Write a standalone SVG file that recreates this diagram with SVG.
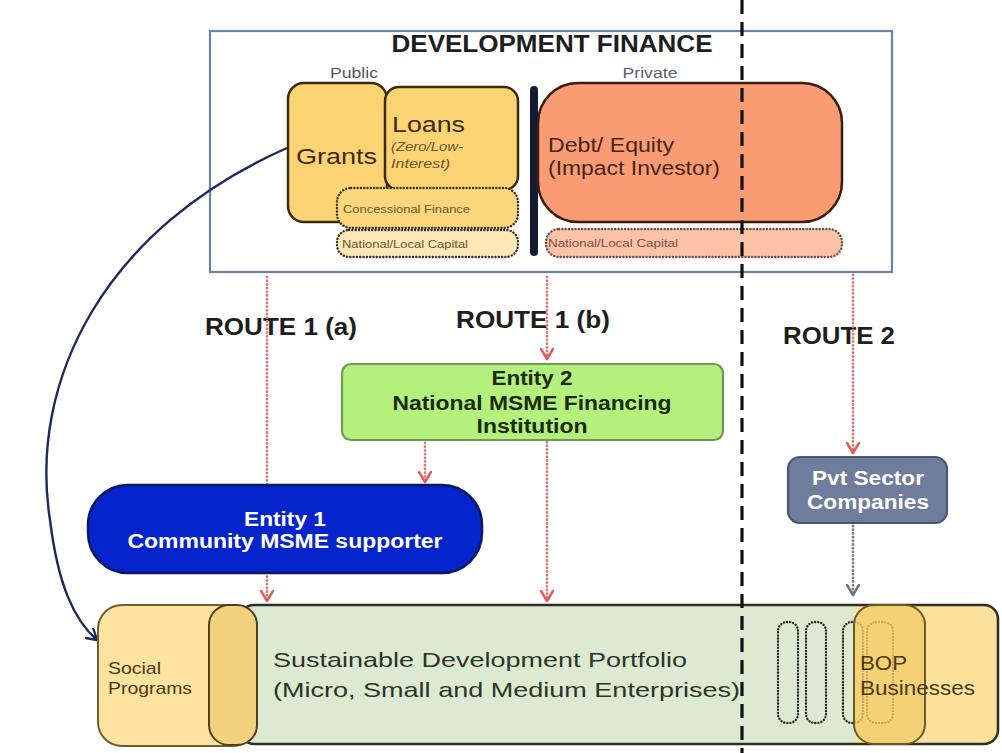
<svg xmlns="http://www.w3.org/2000/svg" width="1002" height="753" viewBox="0 0 1002 753">
<style>
text{font-family:"Liberation Sans",Arial,Helvetica,sans-serif}
.b{font-weight:bold}
.pub{fill:#fcd372;stroke:#3a2c10;stroke-width:2.5}
.dot{stroke-width:2.4;stroke-dasharray:0.1 3.2;stroke-linecap:round}
.brown{fill:#3d2b10}
.red{fill:none;stroke:#d97a7a;stroke-width:2.8;stroke-dasharray:0.1 3.6;stroke-linecap:round}
.gray{fill:none;stroke:#7d7d7d;stroke-width:2.8;stroke-dasharray:0.1 3.6;stroke-linecap:round}
.pill{fill:none;stroke:#2a2a2a;stroke-width:2.4;stroke-dasharray:0.1 3;stroke-linecap:round}
</style>
<defs>
<marker id="ahRed" viewBox="0 0 13 14" refX="11" refY="7" markerWidth="13" markerHeight="14" markerUnits="userSpaceOnUse" orient="auto"><path d="M1,1 L11,7 L1,13" fill="none" stroke="#e05e5c" stroke-width="2.6" stroke-linecap="round" stroke-linejoin="round"/></marker>
<marker id="ahGray" viewBox="0 0 13 14" refX="11" refY="7" markerWidth="13" markerHeight="14" markerUnits="userSpaceOnUse" orient="auto"><path d="M1,1 L11,7 L1,13" fill="none" stroke="#777" stroke-width="2.6" stroke-linecap="round" stroke-linejoin="round"/></marker>
<marker id="ahNavy" viewBox="0 0 13 14" refX="11" refY="7" markerWidth="13" markerHeight="14" markerUnits="userSpaceOnUse" orient="auto"><path d="M1,1 L11,7 L1,13" fill="none" stroke="#1c2a5c" stroke-width="2.4" stroke-linecap="round" stroke-linejoin="round"/></marker>
</defs>
<rect width="1002" height="753" fill="#ffffff"/>

<g id="development-finance">
<rect x="210" y="31" width="682" height="241" fill="#ffffff" stroke="#6a84a2" stroke-width="2.2"/>
<text x="552" y="52" class="b" font-size="23" fill="#1e1e1e" text-anchor="middle" textLength="321" lengthAdjust="spacingAndGlyphs">DEVELOPMENT FINANCE</text>
<text x="354" y="78" font-size="14" fill="#555" text-anchor="middle" textLength="48" lengthAdjust="spacingAndGlyphs">Public</text>
<text x="650" y="78" font-size="14" fill="#5a5f6a" text-anchor="middle" textLength="55" lengthAdjust="spacingAndGlyphs">Private</text>
</g>

<g id="grants">
<rect x="288" y="83" width="99" height="139" rx="16" class="pub"/>
<text x="296" y="164" font-size="22" class="brown" textLength="81" lengthAdjust="spacingAndGlyphs">Grants</text>
</g>
<g id="loans">
<rect x="385" y="87" width="133" height="103" rx="14" class="pub"/>
<text x="392" y="132" font-size="22" class="brown" textLength="73" lengthAdjust="spacingAndGlyphs">Loans</text>
<text x="391" y="151" font-size="12" font-style="italic" fill="#6a5530" textLength="72" lengthAdjust="spacingAndGlyphs">(Zero/Low-</text>
<text x="391" y="168" font-size="12" font-style="italic" fill="#6a5530" textLength="59" lengthAdjust="spacingAndGlyphs">Interest)</text>
</g>
<g id="concessional-finance">
<rect x="337" y="188" width="181" height="40" rx="14" fill="#fcd67a" stroke="#3a3020" class="dot"/>
<text x="343" y="213" font-size="11" fill="#6a5530" textLength="127" lengthAdjust="spacingAndGlyphs">Concessional Finance</text>
</g>
<g id="national-capital-public">
<rect x="337" y="230" width="181" height="27" rx="12" fill="#fde7b6" stroke="#3a3020" class="dot"/>
<text x="342" y="248" font-size="11" fill="#6a5530" textLength="126" lengthAdjust="spacingAndGlyphs">National/Local Capital</text>
</g>
<g id="divider-bar">
<rect x="530" y="86" width="8" height="170" rx="4" fill="#141b33"/>
</g>
<g id="debt-equity">
<rect x="538" y="83" width="304" height="139" rx="40" fill="#f99c73" stroke="#3a1c10" stroke-width="2.5"/>
<text x="548" y="152" font-size="20" fill="#4a2416" textLength="126" lengthAdjust="spacingAndGlyphs">Debt/ Equity</text>
<text x="548" y="175" font-size="20" fill="#4a2416" textLength="172" lengthAdjust="spacingAndGlyphs">(Impact Investor)</text>
</g>
<g id="national-capital-private">
<rect x="546" y="229" width="296" height="28" rx="13" fill="#fcc2a5" stroke="#6e4a44" class="dot"/>
<text x="548" y="247" font-size="11" fill="#7a5048" textLength="130" lengthAdjust="spacingAndGlyphs">National/Local Capital</text>
</g>

<g id="route-labels">
<text x="205" y="335" class="b" font-size="23" fill="#1e1e1e" textLength="152" lengthAdjust="spacingAndGlyphs">ROUTE 1 (a)</text>
<text x="456" y="328" class="b" font-size="23" fill="#1e1e1e" textLength="154" lengthAdjust="spacingAndGlyphs">ROUTE 1 (b)</text>
<text x="783" y="344" class="b" font-size="23" fill="#1e1e1e" textLength="112" lengthAdjust="spacingAndGlyphs">ROUTE 2</text>
</g>

<g id="connectors">
<path d="M267,277 V601" class="red" marker-end="url(#ahRed)"/>
<path d="M547,277 V359" class="red" marker-end="url(#ahRed)"/>
<path d="M547,442 V601" class="red" marker-end="url(#ahRed)"/>
<path d="M425,443 V482" class="red" marker-end="url(#ahRed)"/>
<path d="M853,275 V453" class="red" marker-end="url(#ahRed)"/>
<path d="M853,526 V595" class="gray" marker-end="url(#ahGray)"/>
<path d="M287,148 C105,228 28,380 50,520 C58,585 74,620 97,640" fill="none" stroke="#1c2a5c" stroke-width="2.4" marker-end="url(#ahNavy)"/>
</g>

<g id="entity2">
<rect x="342" y="364" width="381" height="76" rx="9" fill="#b3f07c" stroke="#6e9a54" stroke-width="2.2"/>
<text x="532" y="385" class="b" font-size="20" fill="#1c2a14" text-anchor="middle" textLength="81" lengthAdjust="spacingAndGlyphs">Entity 2</text>
<text x="532" y="410" class="b" font-size="20" fill="#1c2a14" text-anchor="middle" textLength="279" lengthAdjust="spacingAndGlyphs">National MSME Financing</text>
<text x="532" y="433" class="b" font-size="20" fill="#1c2a14" text-anchor="middle" textLength="111" lengthAdjust="spacingAndGlyphs">Institution</text>
</g>

<g id="entity1">
<rect x="88" y="485" width="394" height="88" rx="40" fill="#0624cc" stroke="#0a1a62" stroke-width="2.5"/>
<text x="285" y="526" class="b" font-size="20" fill="#ffffff" text-anchor="middle" textLength="82" lengthAdjust="spacingAndGlyphs">Entity 1</text>
<text x="285" y="548" class="b" font-size="20" fill="#ffffff" text-anchor="middle" textLength="315" lengthAdjust="spacingAndGlyphs">Community MSME supporter</text>
</g>

<g id="pvt-sector">
<rect x="788" y="457" width="159" height="66" rx="12" fill="#6f7c9c" stroke="#4b5673" stroke-width="2.2"/>
<text x="868" y="485" class="b" font-size="20" fill="#ffffff" text-anchor="middle" textLength="112" lengthAdjust="spacingAndGlyphs">Pvt Sector</text>
<text x="868" y="509" class="b" font-size="20" fill="#ffffff" text-anchor="middle" textLength="122" lengthAdjust="spacingAndGlyphs">Companies</text>
</g>

<g id="portfolio">
<rect x="240" y="605" width="758" height="139" rx="14" fill="#dcead2"/>
<path d="M855,605 H984 A14,14 0 0 1 998,619 V730 A14,14 0 0 1 984,744 H855 Z" fill="#fde29c"/>
<rect x="240" y="605" width="758" height="139" rx="14" fill="none" stroke="#2e2e26" stroke-width="2.5"/>
<rect x="778" y="622" width="20" height="101" rx="9" class="pill"/>
<rect x="806" y="622" width="20" height="101" rx="9" class="pill"/>
<rect x="843" y="622" width="20" height="101" rx="9" class="pill"/>
<rect x="867" y="622" width="26" height="101" rx="9" class="pill"/>
<text x="273" y="667" font-size="21" fill="#2e3428" textLength="414" lengthAdjust="spacingAndGlyphs">Sustainable Development Portfolio</text>
<text x="273" y="697" font-size="21" fill="#2e3428" textLength="467" lengthAdjust="spacingAndGlyphs">(Micro, Small and Medium Enterprises)</text>
</g>
<g id="bop-businesses">
<rect x="854" y="605" width="71" height="139" rx="20" fill="#f2cd6c" fill-opacity="0.8" stroke="#6b5a2a" stroke-width="2"/>
<text x="860" y="670" font-size="21" fill="#4a3a18" textLength="47" lengthAdjust="spacingAndGlyphs">BOP</text>
<text x="860" y="695" font-size="21" fill="#4a3a18" textLength="115" lengthAdjust="spacingAndGlyphs">Businesses</text>
</g>
<g id="social-programs">
<rect x="98" y="605" width="159" height="141" rx="24" fill="#fde2a0" stroke="#6e5e34" stroke-width="2"/>
<rect x="209" y="605" width="48" height="140" rx="20" fill="#f3d27e" stroke="#4e4020" stroke-width="2"/>
<text x="108" y="674" font-size="17" fill="#4a3a18" textLength="53" lengthAdjust="spacingAndGlyphs">Social</text>
<text x="108" y="694" font-size="17" fill="#4a3a18" textLength="84" lengthAdjust="spacingAndGlyphs">Programs</text>
</g>

<g id="divider">
<line x1="742" y1="0" x2="742" y2="753" stroke="#111" stroke-width="3.2" stroke-dasharray="14 8"/>
</g>
</svg>
